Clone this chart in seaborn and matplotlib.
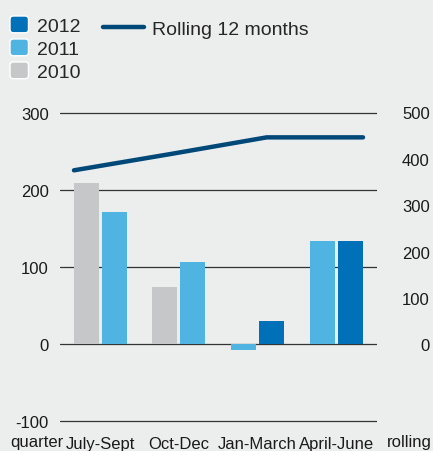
import matplotlib
matplotlib.use('Agg')
import matplotlib.pyplot as plt
from matplotlib.patches import FancyBboxPatch, Patch
from matplotlib.lines import Line2D
from matplotlib.legend_handler import HandlerPatch
import seaborn as sns
import pandas as pd
import numpy as np

# Dados
trimestres = ['July-Sept', 'Oct-Dec', 'Jan-March', 'April-June']
anos = ['2010', '2011', '2012']
v2010 = [210, 74, np.nan, np.nan]
v2011 = [172, 107, -7, 134]
v2012 = [np.nan, np.nan, 30, 134]
rolling_12 = [375, 410, 446, 446]
ticks_esq = [-100, 0, 100, 200, 300]
ticks_dir = [0, 100, 200, 300, 400, 500]

cores = {'2012': '#0070b8', '2011': '#50b4e3', '2010': '#c6c7c9'}
cor_linha = '#004878'
fundo = '#eceeed'

# tabela longa, duas barras por trimestre
linhas = []
for i, t in enumerate(trimestres):
    valores = [(a, v) for a, v in zip(anos, [v2010[i], v2011[i], v2012[i]]) if not np.isnan(v)]
    for pos, (a, v) in enumerate(valores):
        linhas.append({'trimestre': t, 'ano': a, 'valor': v, 'slot': 'ab'[pos]})
df = pd.DataFrame(linhas)

sns.set_style('white', {'axes.facecolor': fundo, 'figure.facecolor': fundo})
plt.rcParams['font.family'] = ['Liberation Sans', 'DejaVu Sans']
plt.rcParams['axes.unicode_minus'] = False

fig = plt.figure(figsize=(4.33, 4.52), dpi=100)
ax = fig.add_axes([60 / 433, 1 - 426.2 / 452, 317 / 433, (426.2 - 106.6) / 452])

sns.barplot(data=df, x='trimestre', y='valor', hue='slot', order=trimestres,
            hue_order=['a', 'b'], width=0.71, gap=0.107, legend=False, ax=ax)
for cont, slot in zip(ax.containers, ['a', 'b']):
    sub = df[df.slot == slot]
    for barra, ano in zip(cont, sub['ano']):
        barra.set_facecolor(cores[ano])
        barra.set_edgecolor('none')

ylim_esq = (-105, 310)
ax.set_ylim(ylim_esq)
ax.set_xlim(-0.51, 3.52)
ax.set_yticks(ticks_esq)
ax.grid(axis='y', color='#333333', linewidth=0.9)
ax.set_axisbelow(True)
ax.set_xlabel('')
ax.set_ylabel('')
ax.set_xticks(range(len(trimestres)))
ax.set_xticklabels(trimestres)
ax.tick_params(axis='both', length=0, labelsize=12, colors='#1a1a1a')
ax.tick_params(axis='y', pad=8)
ax.tick_params(axis='x', pad=8)
sns.despine(ax=ax, left=True, bottom=True)

# eixo direito
escala = 1 / 0.6026
ax2 = ax.twinx()
ax2.set_ylim(ylim_esq[0] * escala, ylim_esq[1] * escala)
ax2.set_yticks(ticks_dir)
ax2.tick_params(axis='y', length=0, labelsize=12, colors='#1a1a1a', pad=38)
for lab in ax2.get_yticklabels():
    lab.set_ha('right')
ax2.grid(False)
sns.despine(ax=ax2, left=True, bottom=True, right=True)

# linha rolling 12 meses
ax3 = ax2.twiny()
sns.lineplot(x=range(len(rolling_12)), y=rolling_12, ax=ax3, color=cor_linha,
             linewidth=3.2, solid_capstyle='round')
ax3.set_xlim(-0.145, 3.145)
ax3.set_xticks([])
ax3.set_xlabel('')
sns.despine(ax=ax3, left=True, bottom=True, right=True, top=True)

fig.text(10 / 433, 1 - 447 / 452, 'quarter', fontsize=12, color='#1a1a1a', va='baseline')
fig.text(387 / 433, 1 - 447 / 452, 'rolling', fontsize=12, color='#1a1a1a', va='baseline')


# legenda com quadrados arredondados
def quadrado(legend, orig_handle, xdescent, ydescent, width, height, fontsize):
    return FancyBboxPatch((-xdescent + 2.5, -ydescent + 2.5), width - 5, height - 5,
                          boxstyle='round,pad=2.5', facecolor=orig_handle.get_facecolor(),
                          edgecolor='none')


handles = [Patch(facecolor=cores[a]) for a in ['2012', '2011', '2010']]
leg1 = fig.legend(handles, ['2012', '2011', '2010'], loc='upper left',
                  bbox_to_anchor=(10 / 433, 1 - 17 / 452), frameon=False, fontsize=14,
                  handlelength=0.95, handleheight=0.95, handletextpad=0.45,
                  labelspacing=0.2, borderpad=0, borderaxespad=0,
                  handler_map={Patch: HandlerPatch(patch_func=quadrado)})
leg2 = fig.legend([Line2D([0], [0], color=cor_linha, linewidth=3.2, solid_capstyle='round')],
                  ['Rolling 12 months'], loc='upper left',
                  bbox_to_anchor=(103 / 433, 1 - 21 / 452), frameon=False, fontsize=14,
                  handlelength=2.1, handletextpad=0.4, borderpad=0, borderaxespad=0)

fig.savefig('out.png', dpi=100, facecolor=fundo)
